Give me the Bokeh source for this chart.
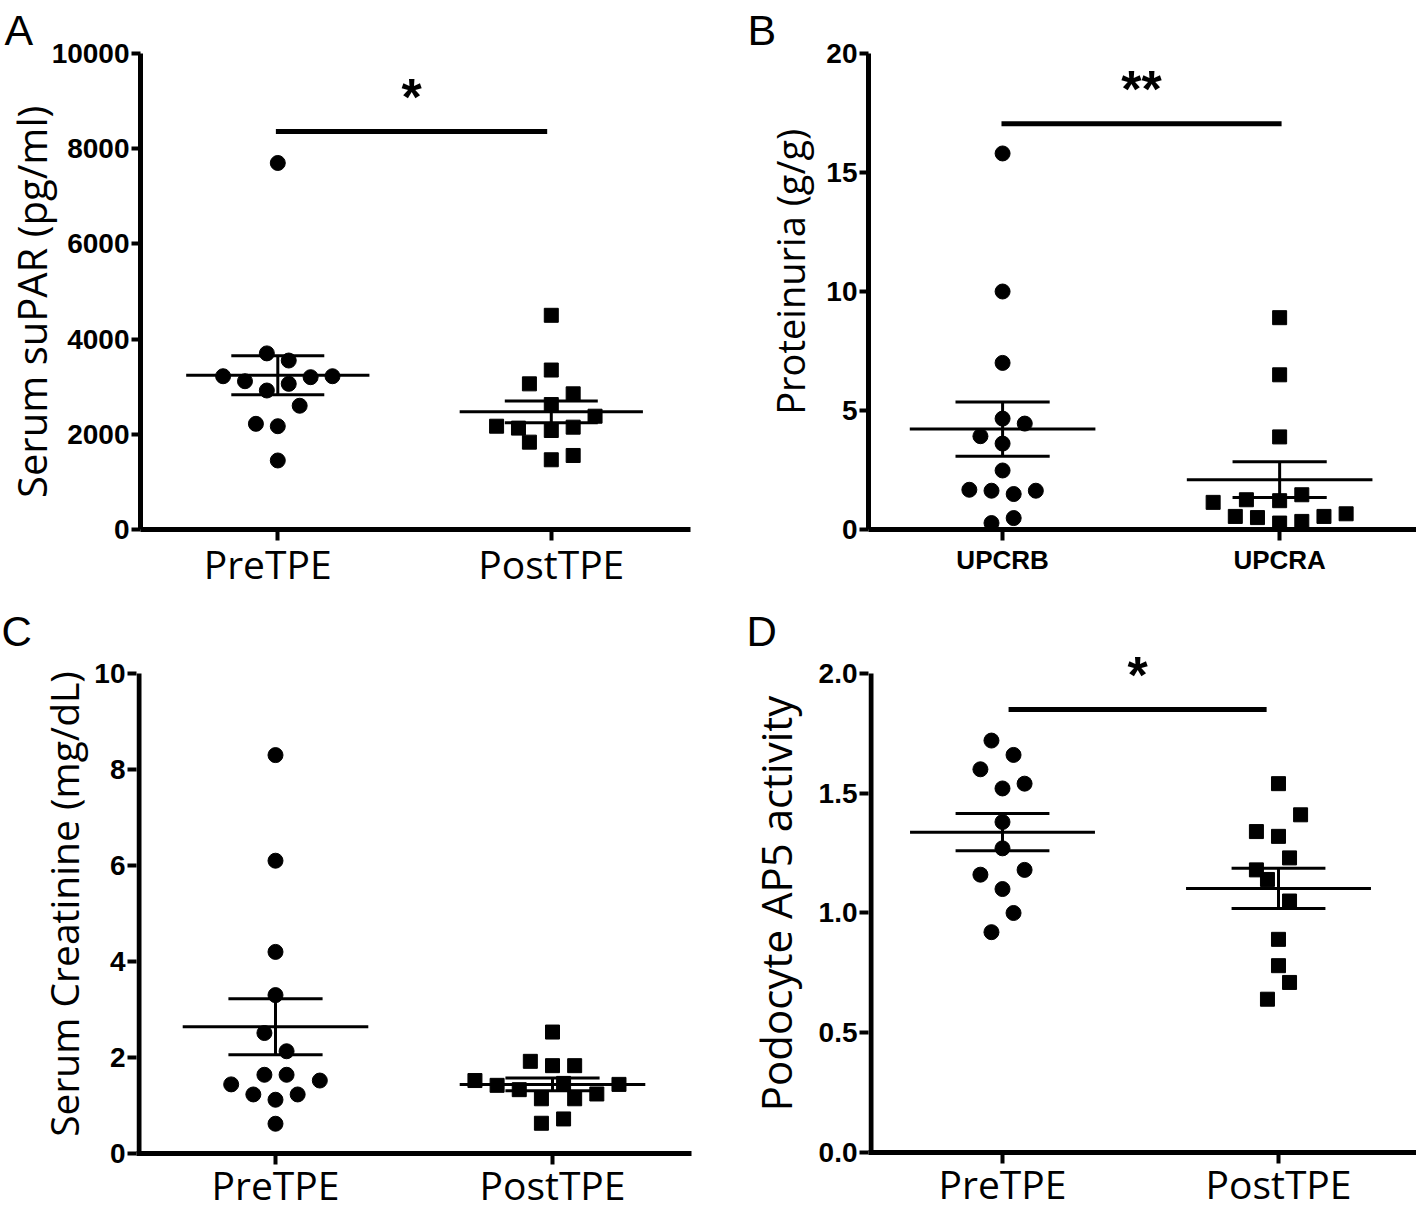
import numpy as np
from bokeh.plotting import figure
from bokeh.layouts import column, row
from bokeh.models import Range1d, FixedTicker, Label, ColumnDataSource
from bokeh.embed import file_html
from bokeh.resources import INLINE

# ---------------- data ----------------
groups_tpe = ["PreTPE", "PostTPE"]
groups_upcr = ["UPCRB", "UPCRA"]

# A: serum suPAR (pg/ml)
a_pre = [7700, 3700, 3550, 3220, 3115, 3200, 3220, 3060, 2920, 2600, 2220, 2170, 1450]
a_pre_jit = [0, -0.04, 0.04, -0.2, -0.12, 0.12, 0.2, 0.04, -0.04, 0.08, -0.08, 0, 0]
a_post = [4500, 3350, 3060, 2850, 2625, 2380, 2170, 2130, 2080, 2150, 1835, 1465, 1555]
a_post_jit = [0, 0, -0.08, 0.08, 0, 0.16, -0.2, -0.12, 0, 0.08, -0.08, 0, 0.08]
a_ticks = [0, 2000, 4000, 6000, 8000, 10000]

# B: proteinuria (g/g)
b_pre = [15.8, 10.0, 7.0, 4.66, 4.45, 3.92, 3.61, 2.48, 1.67, 1.63, 1.49, 1.63, 0.48, 0.27]
b_pre_jit = [0, 0, 0, 0, 0.08, -0.08, 0, 0, -0.12, -0.04, 0.04, 0.12, 0.04, -0.04]
b_post = [8.9, 6.5, 3.89, 1.14, 1.25, 1.21, 1.46, 0.55, 0.5, 0.27, 0.34, 0.55, 0.66]
b_post_jit = [0, 0, 0, -0.24, -0.12, 0, 0.08, -0.16, -0.08, 0, 0.08, 0.16, 0.24]
b_ticks = [0, 5, 10, 15, 20]

# C: serum creatinine (mg/dL)
c_pre = [8.3, 6.1, 4.2, 3.3, 2.51, 2.13, 1.64, 1.64, 1.44, 1.52, 1.23, 1.12, 1.23, 0.62]
c_pre_jit = [0, 0, 0, 0, -0.04, 0.04, -0.04, 0.04, -0.16, 0.16, -0.08, 0, 0.08, 0]
c_post = [2.53, 1.92, 1.83, 1.83, 1.52, 1.42, 1.33, 1.46, 1.14, 1.14, 1.24, 1.44, 0.63, 0.72]
c_post_jit = [0, -0.08, 0, 0.08, -0.28, -0.2, -0.12, 0.04, -0.04, 0.08, 0.16, 0.24, -0.04, 0.04]
c_ticks = [0, 2, 4, 6, 8, 10]

# D: podocyte AP5 activity
d_pre = [1.72, 1.66, 1.60, 1.54, 1.52, 1.38, 1.27, 1.16, 1.18, 1.10, 1.00, 0.92]
d_pre_jit = [-0.04, 0.04, -0.08, 0.08, 0, 0, 0, -0.08, 0.08, 0, 0.04, -0.04]
d_post = [1.54, 1.41, 1.34, 1.32, 1.23, 1.18, 1.14, 1.05, 0.89, 0.78, 0.71, 0.64]
d_post_jit = [0, 0.08, -0.08, 0, 0.04, -0.08, -0.04, 0.04, 0, 0, 0.04, -0.04]
d_ticks = [0.0, 0.5, 1.0, 1.5, 2.0]

# significance annotations: (x0, x1, y of bar, y of stars, text)
a_sig = (0.993, 1.985, 8360, 9076, "*")
b_sig = (0.996, 2.007, 17.05, 18.5, "**")
d_sig = (1.022, 1.957, 1.85, 1.992, "*")

MEAN_HALF = 0.335
SEM_HALF = 0.17
NB = "\u00a0"


def sem(v):
    a = np.asarray(v, float)
    return a.std(ddof=1) / np.sqrt(len(a))


def panel(letter, letter_off, letter_size, pre, pre_j, post, post_j, xr, yr,
          ticks, tick_fmt, ylabel, ylabel_size, ylabel_standoff, xlabels, xlabel_bold,
          xlabel_standoff, w, h, bl, br, bt, bb, sig=None, axis_top=None):
    p = figure(width=w, height=h, x_range=Range1d(*xr), y_range=Range1d(*yr),
               output_backend="svg", toolbar_location=None,
               min_border_left=bl, min_border_right=br, min_border_top=bt, min_border_bottom=bb)
    p.outline_line_color = None
    p.xgrid.visible = False
    p.ygrid.visible = False
    p.background_fill_color = "white"
    p.border_fill_color = "white"

    # panel letter
    p.title.text = letter
    p.title.align = "left"
    p.title.offset = letter_off
    p.title.standoff = 0
    p.title.text_font = "Liberation Sans"
    p.title.text_font_style = "normal"
    p.title.text_font_size = letter_size
    p.title.text_color = "black"

    for ax in (p.xaxis[0], p.yaxis[0]):
        ax.axis_line_width = 5
        ax.axis_line_color = "black"
        ax.major_tick_line_width = 4
        ax.major_tick_line_color = "black"
        ax.major_tick_in = 0
        ax.minor_tick_line_color = None

    p.xaxis.ticker = FixedTicker(ticks=[1, 2])
    p.xaxis.major_label_overrides = {1: xlabels[0], 2: xlabels[1]}
    p.xaxis.major_tick_out = 11
    p.xaxis.major_label_standoff = xlabel_standoff
    if xlabel_bold:
        p.xaxis.major_label_text_font = "Liberation Sans"
        p.xaxis.major_label_text_font_style = "bold"
        p.xaxis.major_label_text_font_size = "26px"
    else:
        p.xaxis.major_label_text_font = "Open Sans"
        p.xaxis.major_label_text_font_size = "39px"
    p.xaxis.major_label_text_color = "black"

    p.yaxis.ticker = FixedTicker(ticks=ticks)
    p.yaxis.major_label_overrides = {t: tick_fmt.format(t) for t in ticks}
    p.yaxis.major_tick_out = 9
    p.yaxis.major_label_standoff = 2
    p.yaxis.major_label_text_font = "Liberation Sans"
    p.yaxis.major_label_text_font_style = "bold"
    p.yaxis.major_label_text_font_size = "28px"
    p.yaxis.major_label_text_color = "black"
    p.yaxis.axis_label = ylabel
    p.yaxis.axis_label_text_font = "Open Sans"
    p.yaxis.axis_label_text_font_style = "normal"
    p.yaxis.axis_label_text_font_size = ylabel_size
    p.yaxis.axis_label_text_color = "black"
    p.yaxis.axis_label_standoff = ylabel_standoff

    if axis_top is not None:
        # y axis line only up to the top tick (frame is taller to hold the star)
        p.yaxis.axis_line_color = None
        units_per_px = (xr[1] - xr[0]) / (w - bl - br)
        xl = xr[0] + 2.5 * units_per_px
        p.segment([xl], [yr[0]], [xl], [axis_top], line_width=5, line_color="black")

    # points
    xs_pre = [1 + j for j in pre_j]
    xs_post = [2 + j for j in post_j]
    p.scatter(xs_pre, pre, marker="circle", size=15, color="black")
    p.scatter(xs_post, post, marker="square", size=14, color="black")

    # mean +/- SEM
    m1, m2 = float(np.mean(pre)), float(np.mean(post))
    s1, s2 = sem(pre), sem(post)
    src = ColumnDataSource(dict(
        x0=[1 - MEAN_HALF, 2 - MEAN_HALF, 1 - SEM_HALF, 2 - SEM_HALF, 1 - SEM_HALF, 2 - SEM_HALF, 1, 2],
        x1=[1 + MEAN_HALF, 2 + MEAN_HALF, 1 + SEM_HALF, 2 + SEM_HALF, 1 + SEM_HALF, 2 + SEM_HALF, 1, 2],
        y0=[m1, m2, m1 + s1, m2 + s2, m1 - s1, m2 - s2, m1 - s1, m2 - s2],
        y1=[m1, m2, m1 + s1, m2 + s2, m1 - s1, m2 - s2, m1 + s1, m2 + s2],
    ))
    p.segment("x0", "y0", "x1", "y1", source=src, line_width=3, line_color="black")

    if sig is not None:
        x0, x1, yb, ys, txt = sig
        p.segment([x0], [yb], [x1], [yb], line_width=5, line_color="black")
        p.add_layout(Label(x=(x0 + x1) / 2, y=ys, text=txt, text_align="center",
                           text_baseline="alphabetic", text_font="Liberation Sans",
                           text_font_style="bold", text_font_size="52px", text_color="black"))
    return p


pA = panel("A", -136, "43px", a_pre, a_pre_jit, a_post, a_post_jit,
           (0.498, 2.509), (0, 10000), a_ticks, "{:d}",
           "Serum suPAR (pg/ml)" + NB * 2, "40px", -10,
           [groups_tpe[0] + NB * 2, groups_tpe[1]], False, -4,
           730, 600, 137, 40, 53, 71, a_sig)
pB = panel("B", -121, "43px", b_pre, b_pre_jit, b_post, b_post_jit,
           (0.516, 2.494), (0, 20), b_ticks, "{:d}",
           NB * 4 + "Proteinuria (g/g)", "38px", 7,
           groups_upcr, True, 4,
           686, 600, 138, 0, 53, 71, b_sig)
pC = panel("C", -135, "42px", c_pre, c_pre_jit, c_post, c_post_jit,
           (0.4982, 2.5018), (0, 10.396), c_ticks, "{:d}",
           "Serum Creatinine (mg/dL)", "39px", 1,
           groups_tpe, False, -7,
           730, 613, 136, 39, 54, 60, None, axis_top=10)
pD = panel("D", -122, "42px", d_pre, d_pre_jit, d_post, d_post_jit,
           (0.5145, 2.500), (0, 2.0793), d_ticks, "{:.1f}",
           "Podocyte AP5 activity", "42px", 12,
           groups_tpe, False, -7,
           686, 612, 138, 0, 54, 60, d_sig, axis_top=2.0)

layout = column(row(pA, pB), row(pC, pD), width=1418, height=1206,
                styles={"overflow": "hidden"})
open("out.html", "w").write(file_html(layout, INLINE))
